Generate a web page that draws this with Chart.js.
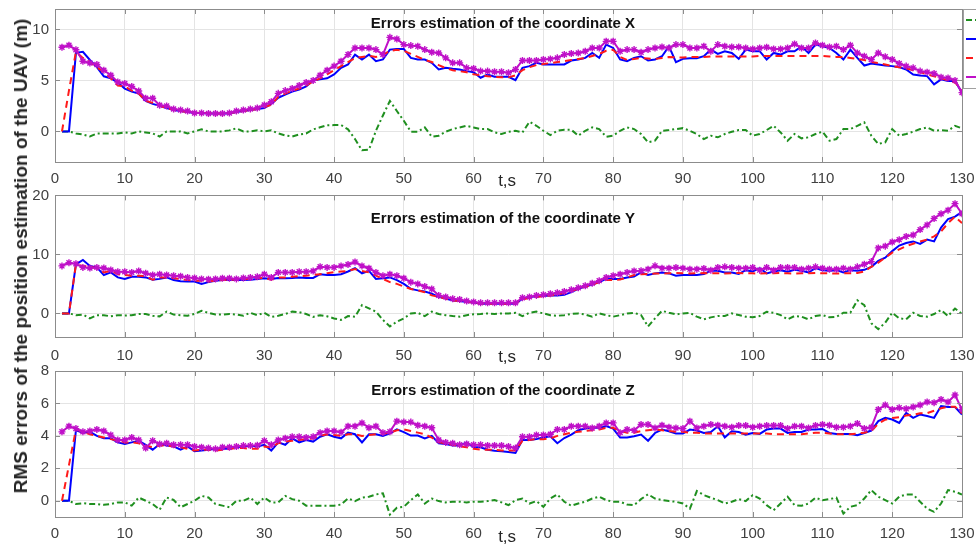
<!DOCTYPE html>
<html>
<head>
<meta charset="utf-8">
<script src="https://cdn.jsdelivr.net/npm/chart.js@4.4.1/dist/chart.umd.min.js"></script>
<style>
  html, body { margin: 0; padding: 0; background: #fff; }
  #wrap { position: relative; width: 976px; height: 544px; overflow: hidden; background: #fff; }
  canvas { position: absolute; left: 0; display: block; }
  #ylab { position: absolute; left: 21px; top: 256px; transform: translate(-50%, -50%) rotate(-90deg);
          white-space: nowrap; font: bold 19px 'Liberation Sans', Arial, sans-serif; color: #262626; }
</style>
</head>
<body>
<div id="wrap">
  <canvas id="cX" width="976" height="190" style="top:0px"></canvas>
  <canvas id="cY" width="976" height="175" style="top:190px"></canvas>
  <canvas id="cZ" width="976" height="179" style="top:365px"></canvas>
  <div id="ylab">RMS errors of the position estimation of the UAV (m)</div>
</div>
<script>
// ---------- data ----------
const tSec = [1,2,3,4,5,6,7,8,9,10,11,12,13,14,15,16,17,18,19,20,21,22,23,24,25,26,27,28,29,30,
  31,32,33,34,35,36,37,38,39,40,41,42,43,44,45,46,47,48,49,50,51,52,53,54,55,56,57,58,59,60,
  61,62,63,64,65,66,67,68,69,70,71,72,73,74,75,76,77,78,79,80,81,82,83,84,85,86,87,88,89,90,
  91,92,93,94,95,96,97,98,99,100,101,102,103,104,105,106,107,108,109,110,111,112,113,114,115,
  116,117,118,119,120,121,122,123,124,125,126,127,128,129,130];

const xTickValues = [0,10,20,30,40,50,60,70,80,90,100,110,120,130];
const yTicksX = [0,5,10];
const yTicksY = [0,10,20];
const yTicksZ = [0,2,4,6,8];

const titleX = 'Errors estimation of the coordinate X';
const titleY = 'Errors estimation of the coordinate Y';
const titleZ = 'Errors estimation of the coordinate Z';
const timeLabel = 't,s';

// coordinate X
const xGreen = [0,0,-0.2,-0.3,-0.5,-0.2,-0.2,-0.2,-0.2,-0.1,
 -0.2,0,-0.1,-0.2,-0.5,0,0,0,-0.2,0,
 0.2,0,0,0,0.1,0.3,0,0,0.1,0,
 0.1,-0.2,-0.4,-0.5,-0.3,-0.2,0.2,0.4,0.6,0.62,
 0.62,0.2,-0.75,-1.85,-1.8,0.06,1.56,2.99,2.0,1.04,
 -0.03,-0.03,0.39,-0.52,-0.42,-0.03,0.23,0.39,0.55,0.39,
 0.23,0.23,-0.1,-0.26,-0.03,0.06,-0.1,0.94,0.55,0.06,
 -0.36,0.06,0.16,0.16,-0.42,0.06,0.39,0.23,-0.52,-0.42,
 0.06,0.39,0.23,-0.26,-1.07,-0.91,0.06,0.13,0.23,0.32,
 0.06,-0.26,-0.75,-0.42,-0.58,-0.26,-0.03,0.13,0.13,-0.42,
 -0.26,0.13,0.55,-0.1,-0.91,-0.26,-0.68,-0.58,-0.26,-0.03,
 -0.91,-0.75,0.23,0.23,0.55,0.88,-0.42,-1.23,-1.07,0.23,
 -0.42,-0.26,-0.03,0.23,0.39,0.06,0.13,0.06,0.55,0.29];
const xBlue = [0,0,7.7,7.8,7.0,6.3,5.4,5.2,4.8,4.2,
 3.9,3.7,3.0,2.7,2.5,2.3,2.1,2.0,1.9,1.8,
 1.8,1.75,1.75,1.75,1.75,1.9,2.0,2.1,2.2,2.3,
 2.7,3.3,3.6,3.9,4.1,4.4,5.0,5.1,5.2,5.58,
 6.23,6.56,7.53,7.05,7.53,6.88,7.05,8.02,8.08,8.08,
 7.21,7.05,7.05,6.72,6.07,6.23,6.14,6.07,5.91,5.81,
 5.26,5.58,5.36,5.36,5.36,5.03,6.23,6.4,6.72,6.56,
 6.56,6.56,6.56,6.95,7.05,7.21,7.69,7.21,8.51,8.18,
 7.05,6.88,7.21,7.37,6.95,7.05,7.37,8.34,6.79,7.11,
 7.18,7.18,7.37,8.02,7.6,7.86,7.69,7.11,8.02,7.86,
 7.86,7.05,7.69,7.53,7.86,7.86,8.34,7.69,8.51,8.34,
 8.18,7.69,7.05,8.02,7.21,6.46,6.66,6.56,6.46,6.4,
 6.3,6.07,5.58,5.49,5.42,4.61,5.1,4.94,4.94,3.8];
const xRed = [0,4,7.8,7.2,6.8,6.3,5.8,5.2,4.5,4.4,
 4.0,3.7,3.0,2.8,2.5,2.3,2.1,2.0,1.9,1.85,
 1.8,1.8,1.75,1.75,1.8,1.9,2.0,2.1,2.2,2.4,
 2.6,3.4,3.7,4.0,4.2,4.5,4.9,5.2,5.6,6.0,
 6.4,6.8,7.2,7.3,7.4,7.3,7.5,7.9,8.0,7.9,
 7.6,7.3,7.0,6.8,6.5,6.2,6.0,5.9,5.8,5.6,
 5.5,5.4,5.35,5.3,5.3,5.5,6.0,6.3,6.5,6.6,
 6.7,6.8,6.9,7.0,7.1,7.2,7.4,7.6,7.9,8.0,
 7.3,7.0,7.1,7.2,7.15,7.1,7.2,7.3,7.25,7.25,
 7.3,7.3,7.3,7.35,7.35,7.35,7.35,7.35,7.35,7.35,
 7.4,7.4,7.4,7.4,7.4,7.4,7.4,7.4,7.4,7.4,
 7.35,7.3,7.3,7.2,7.1,7.0,6.8,6.7,6.55,6.4,
 6.3,6.2,6.0,5.8,5.6,5.4,5.2,5.0,4.8,4.0];
const xMagenta = [8.25,8.44,8.0,6.88,6.7,6.56,6.0,5.5,4.84,4.7,
 4.4,3.96,3.25,3.25,2.56,2.5,2.2,2.1,2.0,1.8,
 1.8,1.75,1.75,1.75,1.8,2.0,2.1,2.2,2.3,2.6,
 2.9,3.73,4.0,4.2,4.5,4.8,5.0,5.5,6.0,6.4,
 6.88,7.53,8.18,8.18,8.18,8.02,7.53,9.22,9.06,8.51,
 8.41,8.34,8.02,7.76,7.69,7.21,6.72,6.72,6.23,6.17,
 5.91,5.91,5.84,5.84,5.75,6.07,6.95,6.95,6.95,7.05,
 7.11,7.21,7.53,7.63,7.69,7.86,8.18,8.18,8.83,8.83,
 7.86,8.02,8.02,7.76,8.02,8.18,8.28,8.18,8.51,8.51,
 8.18,8.18,8.34,7.86,8.51,8.34,8.28,8.28,8.18,8.08,
 8.18,8.25,8.08,8.08,8.18,8.57,8.18,8.18,8.67,8.44,
 8.28,8.34,8.02,8.44,7.69,7.37,7.05,7.69,7.31,7.05,
 6.66,6.4,6.23,5.91,5.81,5.68,5.32,5.23,5.0,3.8];

// coordinate Y
const yGreen = [0,0,-0.3,-0.2,-0.85,-0.3,-0.3,-0.5,-0.3,-0.35,
 -0.3,-0.1,-0.1,-0.4,-0.5,0.3,-0.2,-0.3,-0.4,-0.1,
 0.45,0.1,-0.2,-0.2,-0.1,-0.2,-0.4,0.1,-0.3,0.1,
 -0.6,-0.4,-0.1,0.3,0.2,-0.1,-0.6,-0.3,-0.5,-0.85,
 -1.1,-0.45,-0.55,1.4,0.85,0.3,-1.1,-2.2,-1.4,-0.85,
 0,0.1,-0.45,0.3,-0.1,-0.3,-0.45,-0.55,-0.3,-0.15,
 -0.1,0,-0.1,0,0,0.1,-0.45,0.1,0.3,0,
 -0.3,-0.4,-0.3,-0.1,0,-0.2,-0.55,0,-0.3,-0.55,
 -0.3,0,0.1,-0.28,-2.22,-0.83,0.44,0.11,-0.17,0,
 0.11,-0.56,-1.0,-0.67,-0.44,-0.44,0,-0.28,-0.56,-0.67,
 -0.44,0.28,0.11,-0.28,-1.0,-0.44,-0.56,-1.0,-0.44,-0.28,
 -0.67,-0.56,0.11,0.11,2.22,1.39,-1.67,-2.67,-1.56,0.11,
 -0.83,-1.0,0.11,-0.44,-0.56,-0.11,0.56,-0.44,0.83,-0.11];
const yBlue = [0,0,8.3,9.05,8.05,7.8,6.5,6.95,6.1,5.85,
 6.2,6.2,6.1,5.7,5.85,6.1,5.65,5.45,5.4,5.4,
 5.0,5.3,5.55,5.65,5.7,5.65,5.65,5.7,5.85,5.95,
 5.85,6.0,5.95,6.0,6.1,6.0,6.0,6.65,6.5,6.5,
 6.65,7.1,7.65,6.8,7.2,5.85,5.95,6.1,5.65,5.0,
 4.15,3.9,3.7,3.35,2.8,2.5,2.2,2.1,1.95,1.85,
 1.65,1.65,1.65,1.65,1.65,1.65,2.5,2.8,2.9,2.95,
 3.05,3.05,3.15,3.6,4.15,4.55,4.9,5.3,5.85,5.85,
 5.85,6.1,6.25,6.94,6.5,6.78,6.94,6.78,6.39,6.5,
 6.5,6.5,6.67,7.22,7.22,6.94,6.94,6.67,7.33,7.11,
 7.67,6.78,7.11,7.33,7.06,7.39,7.22,6.94,7.67,7.33,
 7.22,7.33,6.94,7.33,7.22,7.39,7.89,8.89,9.44,10.56,
 11.5,11.94,12.2,11.78,12.5,12.2,14.56,16.0,16.4,17.2];
const yRed = [0,0,8.3,8.05,7.9,7.65,6.95,7.2,6.65,6.5,
 6.4,6.4,6.3,5.7,6.1,6.1,5.95,5.85,5.65,5.55,
 5.55,5.4,5.55,5.65,5.7,5.75,5.8,5.9,5.95,6.0,
 5.7,6.1,6.1,6.2,6.3,6.4,6.5,6.65,6.8,7.0,
 7.1,7.2,7.5,7.2,6.95,6.4,5.85,5.3,5.0,4.55,
 4.15,3.9,3.6,3.05,2.8,2.5,2.2,2.1,1.95,1.85,
 1.65,1.65,1.65,1.65,1.65,1.7,2.35,2.65,2.8,2.9,
 3.05,3.2,3.45,3.8,4.15,4.55,4.85,5.3,5.65,5.65,
 5.75,6.1,6.5,6.65,6.7,6.75,6.75,6.8,6.85,6.8,
 6.75,6.8,6.85,6.8,6.8,6.75,6.8,6.85,6.8,6.8,
 6.75,6.8,6.8,6.85,6.8,6.75,6.8,6.8,6.85,6.8,
 6.8,6.75,6.8,6.8,6.85,7.1,7.9,8.6,9.45,10.3,
 10.85,11.4,11.8,12.2,12.5,13.05,13.9,15.3,16.4,15.3];
const yMagenta = [8.05,8.6,8.4,7.8,7.7,7.8,7.7,7.35,7.05,7.05,
 6.95,7.2,6.8,6.5,6.65,6.5,6.4,6.3,6.1,6.0,
 5.85,5.8,5.85,5.95,5.95,5.85,6.0,6.1,6.2,6.65,
 6.1,6.95,6.95,6.95,7.05,7.05,7.2,7.9,7.8,7.8,
 8.05,8.3,8.7,8.05,7.65,6.95,6.4,6.65,6.4,5.95,
 5.3,5.0,4.55,4.15,3.05,2.8,2.5,2.35,2.1,1.95,
 1.8,1.8,1.8,1.8,1.8,1.8,2.65,2.8,3.05,3.15,
 3.35,3.5,3.7,4.0,4.35,4.7,5.1,5.55,6.1,6.4,
 6.65,6.95,7.2,7.22,7.5,8.06,7.67,7.67,7.78,7.67,
 7.5,7.5,7.61,7.33,7.78,7.89,7.78,7.67,7.67,7.78,
 7.33,7.78,7.33,7.78,7.78,7.78,7.5,7.67,7.89,7.67,
 7.5,7.5,7.67,7.5,7.89,8.33,8.78,11.1,11.4,12.1,
 12.5,13.05,13.3,14.2,15.0,16.1,16.9,17.5,18.6,16.9];

// coordinate Z
const zGreen = [0,0,-0.2,-0.15,-0.2,-0.2,-0.25,-0.2,-0.1,-0.1,
 -0.3,0.2,0,-0.2,-0.55,0.2,0.05,-0.4,-0.2,0,
 0.3,0.2,-0.2,-0.3,-0.4,0,0,0.2,-0.2,0.2,
 -0.1,-0.1,0.3,0.1,0,-0.3,-0.3,-0.3,-0.3,-0.3,
 -0.23,0.14,-0.02,0.19,0.25,0.39,0.46,-0.85,-0.43,-0.37,
 0.04,0.39,-0.17,0.14,-0.02,-0.1,-0.06,-0.06,-0.1,-0.06,
 -0.06,-0.02,0.04,-0.1,-0.27,0.04,0.14,-0.17,-0.02,-0.37,
 0.14,0.39,-0.06,-0.31,-0.17,-0.06,0.14,0.25,0.04,-0.06,
 -0.06,-0.23,-0.27,0.1,0.4,0.14,0.04,-0.02,-0.06,-0.17,
 -0.48,0.6,0.35,0.19,0.04,-0.17,-0.06,0.1,-0.02,0.35,
 0.14,-0.27,-0.58,-0.17,0.25,-0.27,-0.31,-0.17,0.19,0.04,
 0.1,0.19,-0.79,-0.37,-0.27,0.14,0.66,0.25,0.04,-0.17,
 0.25,0.39,0.39,-0.06,-0.48,-0.68,-0.17,0.66,0.56,0.39];
const zBlue = [0,0,4.35,4.2,4.25,4.0,3.85,3.85,3.6,3.5,
 3.6,3.7,3.45,3.15,3.5,3.4,3.35,3.15,3.35,3.05,
 3.1,3.15,3.2,3.2,3.2,3.3,3.35,3.4,3.35,3.45,
 3.1,3.6,3.45,3.85,3.6,3.75,3.65,3.95,4.1,3.95,
 3.85,4.2,4.1,3.6,4.1,4.1,4.0,4.15,4.4,4.23,
 4.02,4.02,3.85,4.0,3.55,3.5,3.4,3.4,3.6,3.3,
 3.3,3.15,3.09,3.05,3.0,2.95,3.75,3.75,3.81,3.9,
 3.98,3.55,3.87,4.08,4.35,4.45,4.5,4.5,4.6,4.45,
 3.9,3.9,3.98,4.08,3.7,4.18,4.39,4.29,4.14,4.14,
 4.39,4.33,4.18,4.24,4.6,3.91,4.29,4.24,4.08,4.18,
 4.12,4.39,4.45,4.45,4.18,4.24,4.24,4.39,4.39,4.43,
 4.18,4.12,4.12,4.12,4.04,4.18,4.33,4.91,5.11,5.01,
 4.8,5.42,5.11,5.32,5.22,5.11,5.84,5.78,5.78,5.32];
const zRed = [0,2.2,4.4,4.25,4.1,4.0,3.9,3.8,3.7,3.6,
 3.6,3.55,3.4,3.3,3.4,3.4,3.35,3.3,3.2,3.1,
 3.15,3.15,3.1,3.15,3.2,3.25,3.25,3.2,3.2,3.35,
 3.3,3.55,3.65,3.7,3.75,3.8,3.85,4.0,4.1,4.05,
 4.0,4.1,4.1,4.0,4.05,4.1,4.15,4.2,4.35,4.4,
 4.3,4.2,4.1,3.9,3.6,3.55,3.45,3.35,3.3,3.2,
 3.15,3.15,3.15,3.1,3.1,3.1,3.7,3.75,3.8,3.8,
 3.85,4.0,4.1,4.2,4.25,4.3,4.35,4.4,4.5,4.5,
 4.3,4.2,4.2,4.3,4.35,4.4,4.35,4.3,4.25,4.25,
 4.2,4.2,4.15,4.15,4.15,4.15,4.15,4.15,4.15,4.15,
 4.15,4.15,4.1,4.1,4.1,4.1,4.1,4.15,4.2,4.2,
 4.15,4.1,4.1,4.1,4.15,4.2,4.3,4.75,5.0,5.1,
 5.15,5.25,5.3,5.4,5.4,5.55,5.7,5.8,5.8,5.4];
const zMagenta = [4.25,4.6,4.45,4.25,4.3,4.4,4.3,4.05,3.75,3.75,
 3.9,3.75,3.25,3.7,3.5,3.55,3.45,3.45,3.45,3.35,
 3.3,3.25,3.2,3.3,3.3,3.35,3.4,3.4,3.42,3.7,
 3.45,3.75,3.85,3.95,3.95,3.9,3.95,4.2,4.3,4.3,
 4.22,4.6,4.6,4.8,4.5,4.6,4.2,4.26,4.91,4.85,
 4.85,4.65,4.6,4.5,3.75,3.6,3.55,3.45,3.5,3.45,
 3.45,3.41,3.41,3.41,3.35,3.25,3.95,3.95,4.05,4.05,
 4.1,4.4,4.4,4.6,4.6,4.6,4.49,4.6,4.8,4.8,
 4.2,4.4,4.34,4.7,4.7,4.49,4.66,4.53,4.49,4.45,
 4.91,4.49,4.6,4.7,4.66,4.6,4.53,4.64,4.64,4.53,
 4.6,4.64,4.64,4.64,4.45,4.6,4.6,4.49,4.64,4.7,
 4.66,4.53,4.53,4.6,4.76,4.45,4.53,5.63,5.9,5.63,
 5.73,5.67,5.78,5.9,6.09,6.05,6.25,6.09,6.52,5.63];

// ---------- styling / drawing ----------
const FONT = "'Liberation Sans', Arial, Helvetica, sans-serif";
const COL_GREEN = '#1f8f1f', COL_BLUE = '#0000ff', COL_RED = '#ff1a1a', COL_MAG = '#bf10c8';
const AXIS_COL = '#8c8c8c', GRID_COL = '#e4e4e4', TICK_COL = '#404040';

function buildDatasets(g, b, r, m) {
  return [
    { label: 'series 1', data: g, borderColor: COL_GREEN, borderWidth: 2, borderDash: [6, 3, 2, 3], pointRadius: 0, order: 3 },
    { label: 'series 2', data: b, borderColor: COL_BLUE, borderWidth: 2, pointRadius: 0, order: 2 },
    { label: 'series 3', data: r, borderColor: COL_RED, borderWidth: 2, borderDash: [7, 5], pointRadius: 0, order: 1 },
    { label: 'series 4', data: m, borderColor: COL_MAG, borderWidth: 2, pointStyle: 'star', pointRadius: 3.5,
      pointBorderWidth: 1.4, pointBorderColor: COL_MAG, pointBackgroundColor: COL_MAG, order: 0 }
  ].map(d => Object.assign({ fill: false, tension: 0, backgroundColor: d.borderColor }, d));
}

const boxPlugin = {
  id: 'matlabBox',
  afterDatasetsDraw(chart) {
    const { ctx, chartArea: a, scales: { x, y } } = chart;
    ctx.save();
    ctx.strokeStyle = AXIS_COL;
    ctx.lineWidth = 1;
    ctx.setLineDash([]);
    ctx.beginPath();
    const L = 5;
    x.ticks.forEach(t => {
      const px = Math.round(x.getPixelForValue(t.value)) + 0.5;
      ctx.moveTo(px, a.bottom); ctx.lineTo(px, a.bottom - L);
      ctx.moveTo(px, a.top); ctx.lineTo(px, a.top + L);
    });
    y.ticks.forEach(t => {
      const py = Math.round(y.getPixelForValue(t.value)) + 0.5;
      ctx.moveTo(a.left, py); ctx.lineTo(a.left + L, py);
      ctx.moveTo(a.right, py); ctx.lineTo(a.right - L, py);
    });
    ctx.stroke();
    ctx.strokeRect(Math.round(a.left) + 0.5, Math.round(a.top) + 0.5,
                   Math.round(a.right - a.left), Math.round(a.bottom - a.top));
    ctx.restore();
  }
};

function textPlugin(title, titleVal, tsOff) {
  return {
    id: 'panelText',
    afterDraw(chart) {
      const { ctx, chartArea: a, scales: { x, y } } = chart;
      ctx.save();
      ctx.fillStyle = '#111';
      ctx.font = 'bold 15px ' + FONT;
      ctx.textAlign = 'center';
      ctx.textBaseline = 'middle';
      ctx.fillText(title, x.getPixelForValue(64.2), y.getPixelForValue(titleVal));
      ctx.fillStyle = '#262626';
      ctx.font = '17px ' + FONT;
      ctx.textBaseline = 'alphabetic';
      ctx.fillText(timeLabel, x.getPixelForValue(64.8), a.bottom + tsOff);
      ctx.restore();
    }
  };
}

const legendPlugin = {
  id: 'cutLegend',
  afterDraw(chart) {
    const { ctx } = chart;
    ctx.save();
    ctx.fillStyle = '#fff';
    ctx.fillRect(963.5, 9.5, 30, 79);
    ctx.strokeStyle = '#a0a0a0';
    ctx.lineWidth = 1;
    ctx.strokeRect(963.5, 9.5, 30, 79);
    const rows = [20, 39, 58, 77];
    chart.data.datasets.forEach((ds, i) => {
      ctx.strokeStyle = ds.borderColor;
      ctx.lineWidth = 2;
      ctx.setLineDash(ds.borderDash || []);
      ctx.beginPath();
      ctx.moveTo(966, rows[i]);
      ctx.lineTo(990, rows[i]);
      ctx.stroke();
    });
    ctx.restore();
  }
};

function makeChart(id, cfg) {
  const plugins = [boxPlugin, textPlugin(cfg.title, cfg.titleVal, cfg.tsOff)];
  if (cfg.legend) plugins.push(legendPlugin);
  return new Chart(document.getElementById(id), {
    type: 'line',
    data: { labels: tSec, datasets: buildDatasets(...cfg.series) },
    options: {
      responsive: false,
      devicePixelRatio: 1,
      animation: false,
      events: [],
      layout: { padding: { top: cfg.padTop, right: 14, bottom: 0, left: 0 } },
      plugins: { legend: { display: false }, tooltip: { enabled: false } },
      scales: {
        x: {
          type: 'linear', min: 0, max: 130,
          afterBuildTicks: s => { s.ticks = xTickValues.map(v => ({ value: v })); },
          afterFit: s => { s.height = cfg.axisH; s.paddingLeft = 0; s.paddingRight = 0; },
          grid: { color: GRID_COL, drawTicks: false, lineWidth: 1 },
          border: { display: false },
          ticks: { color: TICK_COL, font: { family: FONT, size: 15 }, padding: cfg.tickPad,
                   autoSkip: false, maxRotation: 0, minRotation: 0 }
        },
        y: {
          type: 'linear', min: cfg.yMin, max: cfg.yMax,
          afterBuildTicks: s => { s.ticks = cfg.yTicks.map(v => ({ value: v })); },
          afterFit: s => { s.width = 55; s.paddingTop = 0; s.paddingBottom = 0; },
          grid: { color: GRID_COL, drawTicks: false, lineWidth: 1 },
          border: { display: false },
          ticks: { color: TICK_COL, font: { family: FONT, size: 15 }, padding: 6 }
        }
      }
    },
    plugins
  });
}

makeChart('cX', { padTop: 9, axisH: 28, tickPad: 8, yMin: -3, yMax: 12, yTicks: yTicksX,
  series: [xGreen, xBlue, xRed, xMagenta], title: titleX, titleVal: 10.55, tsOff: 24, legend: true });
makeChart('cY', { padTop: 4, axisH: 28, tickPad: 10, yMin: -4, yMax: 20, yTicks: yTicksY,
  series: [yGreen, yBlue, yRed, yMagenta], title: titleY, titleVal: 16, tsOff: 25, legend: false });
makeChart('cZ', { padTop: 6, axisH: 27, tickPad: 8, yMin: -1, yMax: 8, yTicks: yTicksZ,
  series: [zGreen, zBlue, zRed, zMagenta], title: titleZ, titleVal: 6.77, tsOff: 25, legend: false });
</script>
</body>
</html>
